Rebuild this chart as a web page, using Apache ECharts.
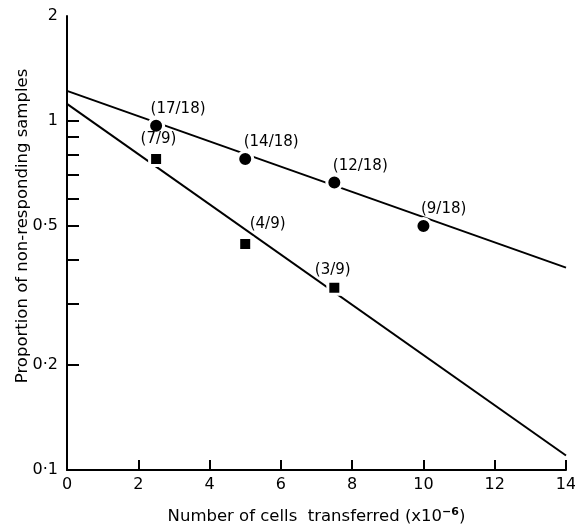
<!DOCTYPE html>
<html lang="en">
<head>
    <meta charset="UTF-8">
    <title>Non-responding samples</title>
    <style>
        html, body { margin: 0; padding: 0; background: #fff; }
    </style>
</head>
<body>
    <div id="chart" style="width:575px; height:527px"></div>

    <script src="https://cdn.jsdelivr.net/npm/echarts@6/dist/echarts.min.js"></script>
    <script>
        // readings from the figure
        const circleX = [2.5, 5, 7.5, 10];
        const circleY = [0.97, 0.778, 0.667, 0.5];
        const circleText = ['(17/18)', '(14/18)', '(12/18)', '(9/18)'];

        const squareX = [2.5, 5, 7.5];
        const squareY = [0.778, 0.444, 0.333];
        const squareText = ['(7/9)', '(4/9)', '(3/9)'];

        // fitted lines, ends read at x = 0 and x = 14
        const circleFitX = [0, 14];
        const circleFitY = [1.22, 0.38];
        const squareFitX = [0, 14];
        const squareFitY = [1.12, 0.11];

        const xTicks = [0, 2, 4, 6, 8, 10, 12, 14];
        const yTickLabels = [0.1, 0.2, 0.5, 1, 2];
        const yTickMarks = [0.2, 0.3, 0.4, 0.5, 0.6, 0.7, 0.8, 0.9, 1];

        // label placement next to each marker (left, bottom relative to marker centre)
        const circleLabelPos = [[-4, -8], [0, -8], [0, -7], [-1, -8]];
        const squareLabelPos = [[-14, -11], [6, -11], [-18, -9]];

        const font = 'DejaVu Sans';
        const fmt = v => String(v).replace('.', '\u00b7');

        const chart = echarts.init(document.getElementById('chart'));

        const labelled = (xs, ys, texts, pos, half) => xs.map((x, i) => ({
            value: [x, ys[i]],
            label: {
                show: true,
                formatter: texts[i],
                position: [pos[i][0] + half, pos[i][1] + half],
                align: 'left',
                verticalAlign: 'bottom'
            }
        }));

        chart.setOption({
            animation: false,
            grid: { left: 67, right: 9, top: 16, bottom: 57, outerBoundsMode: 'none' },
            xAxis: {
                type: 'value',
                min: 0,
                max: 14,
                interval: 2,
                name: 'Number of cells  transferred (x10{sup|\u22126})',
                nameLocation: 'middle',
                nameGap: 37,
                nameMoveOverlap: false,
                nameTextStyle: {
                    color: '#000', fontFamily: font, fontSize: 16.5,
                    rich: { sup: { fontSize: 11, fontWeight: 'bold', verticalAlign: 'top', padding: [0, 0, 9, 0], fontFamily: font, color: '#000' } }
                },
                axisLine: { lineStyle: { color: '#000', width: 2 } },
                axisTick: { inside: true, length: 10, lineStyle: { color: '#000', width: 2 }, customValues: xTicks },
                axisLabel: { color: '#000', fontFamily: font, fontSize: 16, margin: 7, customValues: xTicks },
                splitLine: { show: false }
            },
            yAxis: {
                type: 'log',
                logBase: 10,
                min: 0.1,
                max: 2,
                name: 'Proportion of non-responding samples',
                nameLocation: 'middle',
                nameGap: 36,
                nameMoveOverlap: false,
                nameTextStyle: { color: '#000', fontFamily: font, fontSize: 16.5, padding: [0, 0, 0, 34] },
                axisLine: { show: true, lineStyle: { color: '#000', width: 2 } },
                axisTick: { inside: true, length: 12, lineStyle: { color: '#000', width: 2 }, customValues: yTickMarks },
                axisLabel: { color: '#000', fontFamily: font, fontSize: 16, margin: 9, formatter: fmt, customValues: yTickLabels },
                splitLine: { show: false }
            },
            series: [
                {
                    type: 'line',
                    data: circleFitX.map((x, i) => [x, circleFitY[i]]),
                    symbol: 'none',
                    lineStyle: { color: '#000', width: 2 },
                    z: 1
                },
                {
                    type: 'line',
                    data: squareFitX.map((x, i) => [x, squareFitY[i]]),
                    symbol: 'none',
                    lineStyle: { color: '#000', width: 2 },
                    z: 1
                },
                {
                    type: 'scatter',
                    symbol: 'circle',
                    symbolSize: 15,
                    itemStyle: { color: '#000', borderColor: '#fff', borderWidth: 3, opacity: 1 },
                    label: { color: '#000', fontFamily: font, fontSize: 15 },
                    data: labelled(circleX, circleY, circleText, circleLabelPos, 7.5),
                    z: 3
                },
                {
                    type: 'scatter',
                    symbol: 'rect',
                    symbolSize: 13,
                    itemStyle: { color: '#000', borderColor: '#fff', borderWidth: 3, opacity: 1 },
                    label: { color: '#000', fontFamily: font, fontSize: 15 },
                    data: labelled(squareX, squareY, squareText, squareLabelPos, 6.5),
                    z: 3
                }
            ]
        });
    </script>
</body>
</html>
